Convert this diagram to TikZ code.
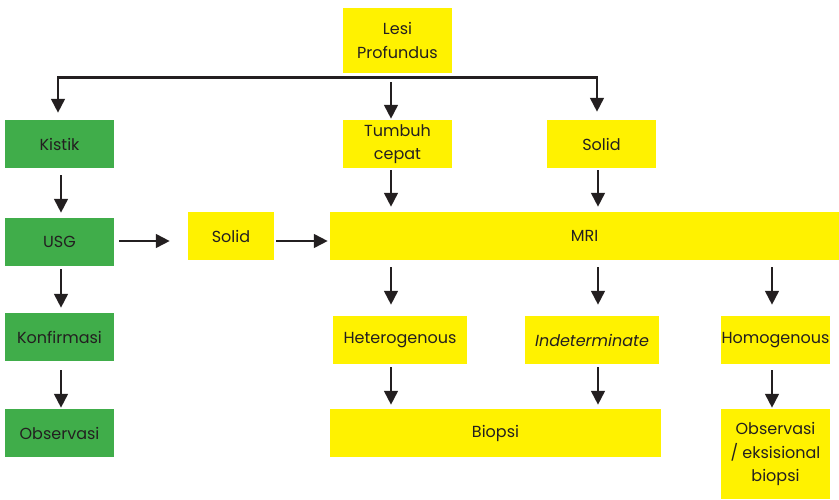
\documentclass[tikz,border=0pt]{standalone}
\usepackage{fontspec}
\setmainfont{Poppins}
\usetikzlibrary{arrows.meta,calc}
\definecolor{boxgreen}{HTML}{40AD4A}
\definecolor{boxyellow}{HTML}{FFF200}
\definecolor{ink}{HTML}{231F20}
\tikzset{
  box/.style={rectangle, inner sep=0pt, align=center, text=ink,
    font=\fontsize{16}{23.5}\selectfont},
  ybox/.style={box, fill=boxyellow},
  gbox/.style={box, fill=boxgreen},
  arr/.style={draw=ink, line width=2.9pt,
    -{Triangle[width=13.5pt,length=14pt]}}
}
\begin{document}
\begin{tikzpicture}[x=1pt,y=-1pt]
\useasboundingbox (0,0) rectangle (839,499);

% left column (cystic branch)
\node[gbox, minimum width=109, minimum height=48] (kistik) at (59.5,144) {Kistik};
\node[gbox, minimum width=109, minimum height=48] (usg) at (59.5,242) {USG};
\node[gbox, minimum width=109, minimum height=48] (konf) at (59.5,337) {Konfirmasi};
\node[gbox, minimum width=109, minimum height=48] (obs) at (59.5,433) {Observasi};

% top and second row
\node[ybox, minimum width=109, minimum height=65] (lesi) at (397.5,40.5) {Lesi\\Profundus};
\node[ybox, minimum width=109, minimum height=48] (tumbuh) at (397.5,144) {Tumbuh\\cepat};
\node[ybox, minimum width=109, minimum height=48] (solidR) at (601.5,144) {Solid};

% imaging row
\node[ybox, minimum width=86, minimum height=48] (solidM) at (231,236) {Solid};
\node[ybox, minimum width=509, minimum height=48] (mri) at (584.5,236) {MRI};

% MRI findings
\node[ybox, minimum width=134, minimum height=48] (het) at (400,340) {Heterogenous};
\node[ybox, minimum width=134, minimum height=48] (ind) at (592,340) {\itshape Indeterminate};
\node[ybox, minimum width=109, minimum height=48] (hom) at (775.5,340) {Homogenous};

% outcomes
\node[ybox, minimum width=331, minimum height=48] (biopsi) at (495.5,433) {Biopsi};
\node[ybox, minimum width=109, minimum height=90] (obs2) at (775.5,454) {Observasi\\/ eksisional\\biopsi};

% branching from the deep lesion
\draw[arr] ($(lesi.south)+(0,4)$) -| ($(kistik.north)+(-1.5,-7)$);
\draw[arr] ($(lesi.south)+(0,4)$) -| ($(solidR.north)+(-4.5,-8)$);
\draw[arr] ($(lesi.south)+(-6.5,9)$) -- ($(tumbuh.north)+(-6.5,-1)$);

% cystic path
\draw[arr] ($(kistik.south)+(1.5,7)$) -- ($(usg.north)+(1.5,-5)$);
\draw[arr] ($(usg.south)+(1.5,3)$) -- ($(konf.north)+(1.5,-5)$);
\draw[arr] ($(konf.south)+(1.5,9)$) -- ($(obs.north)+(1.5,-1)$);

% into MRI
\draw[arr] ($(usg.east |- solidM.west)+(5,5)$) -- ($(solidM.west)+(-18,5)$);
\draw[arr] ($(solidM.east)+(2,5)$) -- ($(mri.west |- solidM.east)+(-2,5)$);
\draw[arr] ($(tumbuh.south)+(-6.5,2)$) -- ($(tumbuh.south |- mri.north)+(-6.5,-5)$);
\draw[arr] ($(solidR.south)+(-3.5,2)$) -- ($(solidR.south |- mri.north)+(-3.5,-5)$);

% MRI results
\draw[arr] ($(het.north |- mri.south)+(-9,7)$) -- ($(het.north)+(-9,-11)$);
\draw[arr] ($(ind.north |- mri.south)+(6,7)$) -- ($(ind.north)+(6,-11)$);
\draw[arr] ($(hom.north |- mri.south)+(-3.5,7)$) -- ($(hom.north)+(-3.5,-11)$);

% outcomes
\draw[arr] ($(het.south)+(-9,3)$) -- ($(het.south |- biopsi.north)+(-9,-4)$);
\draw[arr] ($(ind.south)+(6,3)$) -- ($(ind.south |- biopsi.north)+(6,-4)$);
\draw[arr] ($(hom.south)+(-3.5,6)$) -- ($(obs2.north)+(-3.5,-1)$);
\end{tikzpicture}
\end{document}
